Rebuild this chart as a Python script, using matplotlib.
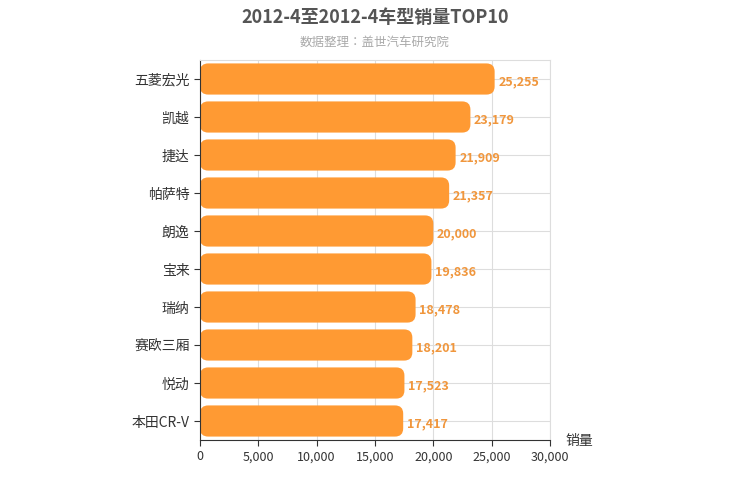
import matplotlib
matplotlib.use("Agg")
import matplotlib.pyplot as plt
from matplotlib.patches import FancyBboxPatch

plt.rcParams['font.family'] = ['Noto Sans CJK SC', 'Noto Sans CJK JP', 'Noto Sans CJK TC', 'Noto Sans CJK KR', 'DejaVu Sans']

categories = ["五菱宏光", "凯越", "捷达", "帕萨特", "朗逸", "宝来", "瑞纳", "赛欧三厢", "悦动", "本田CR-V"]
values = [25255, 23179, 21909, 21357, 20000, 19836, 18478, 18201, 17523, 17417]
xticks = [0, 5000, 10000, 15000, 20000, 25000, 30000]

fig = plt.figure(figsize=(7.5, 5), dpi=100)
ax = fig.add_axes([200/750, 60/500, 350/750, 380/500])
n = len(categories)
ax.set_xlim(0, 30000)
ax.set_ylim(-0.5, n - 0.5)
color = '#FF9A33'
h = 0.82
aspect = (n / 380) / (30000 / 350)
for i, (c, v) in enumerate(zip(categories, values)):
    y = n - 1 - i
    p = FancyBboxPatch((0, y - h/2), v, h, boxstyle="round,pad=0,rounding_size=700",
                       mutation_aspect=aspect, facecolor=color, edgecolor='none', zorder=2)
    ax.add_patch(p)
    ax.text(v + 300, y - 0.08, f"{v:,}", va='center', ha='left', fontsize=9, color='#F0963C', fontweight='bold')
ax.set_yticks(range(n))
ax.set_yticklabels(categories[::-1], fontsize=10, color='#333333')
ax.set_xticks(xticks)
ax.set_xticklabels([f"{t:,}" for t in xticks], fontsize=9, color='#333333')
ax.grid(True, color='#DDDDDD', linewidth=0.8, zorder=0)
ax.set_axisbelow(True)
for s in ['top', 'right']:
    ax.spines[s].set_color('#DDDDDD')
ax.spines['left'].set_color('#333333')
ax.spines['bottom'].set_color('#333333')
ax.tick_params(axis='y', length=4, color='#333333')
ax.tick_params(axis='x', length=4, color='#333333')
fig.text(0.5, 0.965, "2012-4至2012-4车型销量TOP10", ha='center', va='center', fontsize=13, fontweight='bold', color='#555555')
fig.text(0.5, 0.915, "数据整理：盖世汽车研究院", ha='center', va='center', fontsize=9, color='#AAAAAA')
fig.text(565/750, 1 - 441/500, "销量", ha='left', va='center', fontsize=10, color='#333333')
fig.savefig("out.png", dpi=100)
